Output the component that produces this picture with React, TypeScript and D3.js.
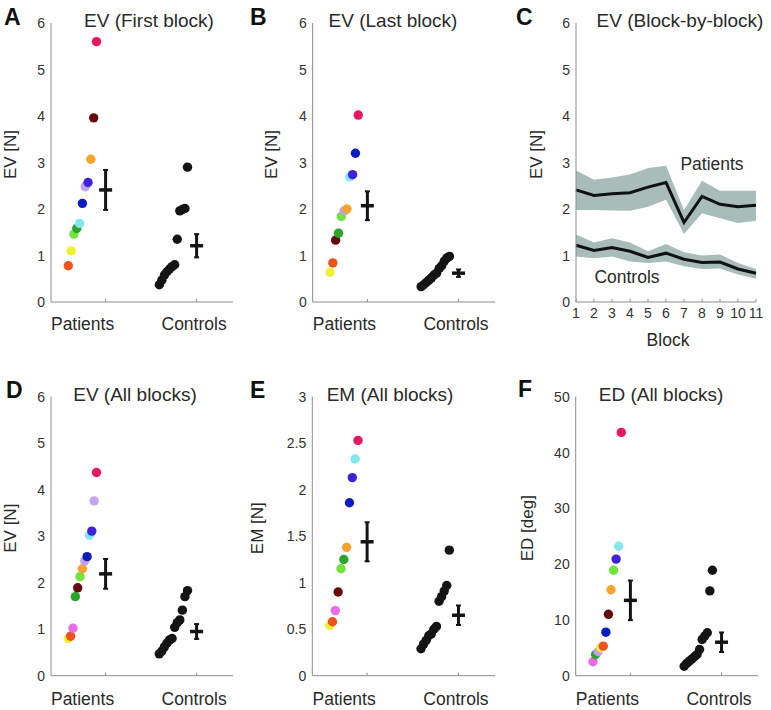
import React from 'react';
import * as d3 from 'd3';

// ---------- DATA ----------
const subjectColors: Record<string, string> = {
  orangered: '#f0521c',
  yellow: '#eef032',
  lime: '#70e43a',
  green: '#2aa52a',
  cyan: '#80e8ee',
  blue: '#0d1cbe',
  lavender: '#c2a0ee',
  violet: '#3e22d8',
  orange: '#f6a42a',
  maroon: '#650b0b',
  crimson: '#e8185c',
  magenta: '#e86ce8',
  lilac: '#c4a6f0',
};

const categories = ['Patients', 'Controls'];

// Panel A: EV first block
const subjectsA = ['orangered', 'yellow', 'lime', 'green', 'cyan', 'blue', 'lavender', 'violet', 'orange', 'maroon', 'crimson'];
const patientsA = [0.78, 1.10, 1.46, 1.58, 1.69, 2.12, 2.48, 2.57, 3.07, 3.96, 5.60];
const controlsA = [0.37, 0.47, 0.58, 0.65, 0.71, 0.76, 0.80, 1.35, 1.96, 1.99, 2.01, 2.90];
const meanA = [2.41, 1.21];
const errA = [0.43, 0.25];

// Panel B: EV last block
const subjectsB = ['yellow', 'orangered', 'maroon', 'green', 'lime', 'lavender', 'orange', 'cyan', 'violet', 'blue', 'crimson'];
const patientsB = [0.64, 0.84, 1.33, 1.48, 1.84, 1.96, 2.00, 2.69, 2.74, 3.20, 4.02];
const controlsB = [0.33, 0.37, 0.42, 0.47, 0.52, 0.58, 0.62, 0.72, 0.78, 0.88, 0.95, 0.98];
const meanB = [2.07, 0.62];
const errB = [0.31, 0.08];

// Panel C: EV block-by-block
const blocks = [1, 2, 3, 4, 5, 6, 7, 8, 9, 10, 11];
const patientsMeanC = [2.41, 2.29, 2.33, 2.35, 2.47, 2.57, 1.71, 2.27, 2.10, 2.05, 2.08];
const patientsUpperC = [2.83, 2.63, 2.68, 2.74, 2.88, 2.93, 1.98, 2.61, 2.39, 2.39, 2.39];
const patientsLowerC = [1.98, 1.98, 1.97, 1.96, 2.05, 2.20, 1.46, 1.91, 1.80, 1.70, 1.75];
const controlsMeanC = [1.22, 1.11, 1.17, 1.09, 0.96, 1.05, 0.92, 0.85, 0.86, 0.71, 0.62];
const controlsUpperC = [1.45, 1.28, 1.37, 1.28, 1.09, 1.25, 1.07, 1.00, 1.02, 0.84, 0.71];
const controlsLowerC = [0.98, 0.94, 0.98, 0.87, 0.84, 0.87, 0.77, 0.71, 0.72, 0.59, 0.50];

// Panel D: EV all blocks
const subjectsD = ['yellow', 'orangered', 'magenta', 'green', 'maroon', 'lime', 'orange', 'lavender', 'blue', 'cyan', 'violet', 'crimson', 'lilac'];
const patientsD = [0.80, 0.85, 1.02, 1.70, 1.89, 2.13, 2.30, 2.47, 2.56, 3.02, 3.11, 4.37, 3.76];
const controlsD = [0.47, 0.53, 0.62, 0.70, 0.77, 0.80, 1.04, 1.14, 1.20, 1.41, 1.70, 1.83];
const meanD = [2.19, 0.95];
const errD = [0.32, 0.16];

// Panel E: EM all blocks
const subjectsE = ['yellow', 'orangered', 'magenta', 'maroon', 'lime', 'green', 'orange', 'blue', 'violet', 'cyan', 'crimson'];
const patientsE = [0.54, 0.58, 0.70, 0.90, 1.15, 1.25, 1.38, 1.86, 2.13, 2.33, 2.53];
const controlsE = [0.29, 0.34, 0.38, 0.43, 0.45, 0.50, 0.53, 0.80, 0.85, 0.91, 0.97, 1.35];
const meanE = [1.44, 0.65];
const errE = [0.21, 0.105];

// Panel F: ED all blocks
const subjectsF = ['magenta', 'green', 'lavender', 'yellow', 'orangered', 'blue', 'maroon', 'orange', 'lime', 'violet', 'cyan', 'crimson'];
const patientsF = [2.5, 3.8, 4.3, 5.0, 5.3, 7.8, 11.0, 15.4, 18.9, 20.9, 23.2, 43.6];
const controlsF = [1.7, 2.2, 2.6, 3.0, 3.4, 3.8, 4.7, 6.5, 7.1, 7.7, 15.2, 18.9];
const meanF = [13.5, 6.0];
const errF = [3.55, 1.75];

const ticks6 = [0, 1, 2, 3, 4, 5, 6];
const ticks3 = [0, 0.5, 1, 1.5, 2, 2.5, 3];
const ticks50 = [0, 10, 20, 30, 40, 50];

// ---------- LAYOUT ----------
const FONT = '"Liberation Sans", Arial, Helvetica, sans-serif';
const AXIS = '#8c8c8c';
const TXT = '#2a2a2a';
const TITLE_SIZE = 19;

type DotCfg = {
  letter: string; letterX: number; letterY: number;
  title: string; titleX: number; titleY: number;
  ylabel: string; ylabelX: number;
  left: number; right: number; top: number; bottom: number;
  yMax: number; yTicks: number[];
  subjects: string[]; patients: number[]; controls: number[];
  means: number[]; errs: number[];
  catY: number;
};

function DotPanel({ c }: { c: DotCfg }) {
  const x = d3.scaleLinear().domain([0.4, 2.4]).range([c.left, c.right]);
  const y = d3.scaleLinear().domain([0, c.yMax]).range([c.bottom, c.top]);
  const jitter = (n: number) => d3.scaleLinear().domain([0, Math.max(1, n - 1)]).range([-0.41, -0.10]);
  const rankOf = (vals: number[]) => {
    const order = d3.range(vals.length).sort((a, b) => vals[a] - vals[b]);
    const r: number[] = new Array(vals.length);
    order.forEach((idx, k) => (r[idx] = k));
    return r;
  };
  const pr = rankOf(c.patients);
  const cr = rankOf(c.controls);
  const jp = jitter(c.patients.length);
  const jc = jitter(c.controls.length);
  const pOrder = d3.range(c.patients.length).sort((a, b) => c.patients[a] - c.patients[b]);
  const cOrder = d3.range(c.controls.length).sort((a, b) => c.controls[a] - c.controls[b]);
  const midY = (c.top + c.bottom) / 2 - 8;
  return (
    <g>
      <text x={c.letterX} y={c.letterY} fontSize={23} fontWeight="bold" fill="#111" fontFamily={FONT}>{c.letter}</text>
      <text x={c.titleX} y={c.titleY} fontSize={TITLE_SIZE} fill={TXT} textAnchor="middle" fontFamily={FONT}>{c.title}</text>
      <text transform={`translate(${c.ylabelX},${midY}) rotate(-90)`} fontSize={17} fill={TXT} textAnchor="middle" dominantBaseline="central" fontFamily={FONT}>{c.ylabel}</text>
      <line x1={c.left} x2={c.left} y1={c.top} y2={c.bottom} stroke={AXIS} strokeWidth={1} />
      <line x1={c.left} x2={c.right} y1={c.bottom} y2={c.bottom} stroke={AXIS} strokeWidth={1} />
      {c.yTicks.map((t) => (
        <text key={t} x={c.left - 6} y={y(t)} fontSize={14} fill="#333" textAnchor="end" dominantBaseline="central" fontFamily={FONT}>{String(t)}</text>
      ))}
      {categories.map((cat, i) => (
        <g key={cat}>
          <line x1={x(i + 1)} x2={x(i + 1)} y1={c.bottom} y2={c.bottom - 3} stroke={AXIS} strokeWidth={1} />
          <text x={x(i + 1) + (i === 0 ? -23 : -2.5)} y={c.catY} fontSize={17.5} fill={TXT} textAnchor="middle" fontFamily={FONT}>{cat}</text>
        </g>
      ))}
      {pOrder.map((i) => (
        <circle key={'p' + i} cx={x(1 + jp(pr[i]))} cy={y(c.patients[i])} r={4.7} fill={subjectColors[c.subjects[i]]} />
      ))}
      {cOrder.map((i) => (
        <circle key={'c' + i} cx={x(2 + jc(cr[i]))} cy={y(c.controls[i])} r={4.7} fill="#141414" />
      ))}
      {c.means.map((m, i) => {
        const cx = x(i + 1);
        return (
          <g key={'m' + i} stroke="#141414">
            <line x1={cx} x2={cx} y1={y(m - c.errs[i])} y2={y(m + c.errs[i])} strokeWidth={3} />
            <line x1={cx - 2.5} x2={cx + 2.5} y1={y(m + c.errs[i])} y2={y(m + c.errs[i])} strokeWidth={2} />
            <line x1={cx - 2.5} x2={cx + 2.5} y1={y(m - c.errs[i])} y2={y(m - c.errs[i])} strokeWidth={2} />
            <line x1={cx - 6.5} x2={cx + 6.5} y1={y(m)} y2={y(m)} strokeWidth={3.5} />
          </g>
        );
      })}
    </g>
  );
}

function BlockPanel() {
  const left = 576, right = 756, top = 23, bottom = 302;
  const x = d3.scaleLinear().domain([1, 11]).range([left, right]);
  const y = d3.scaleLinear().domain([0, 6]).range([bottom, top]);
  const idx = d3.range(blocks.length);
  const area = (lo: number[], hi: number[]) =>
    d3.area<number>().x((i) => x(blocks[i])).y0((i) => y(lo[i])).y1((i) => y(hi[i]))(idx) || '';
  const line = (v: number[]) => d3.line<number>().x((i) => x(blocks[i])).y((i) => y(v[i]))(idx) || '';
  const midY = (top + bottom) / 2 - 8;
  return (
    <g>
      <text x={516} y={25} fontSize={23} fontWeight="bold" fill="#111" fontFamily={FONT}>C</text>
      <text x={680} y={27} fontSize={TITLE_SIZE} fill={TXT} textAnchor="middle" fontFamily={FONT}>EV (Block-by-block)</text>
      <text transform={`translate(536,${midY}) rotate(-90)`} fontSize={17} fill={TXT} textAnchor="middle" dominantBaseline="central" fontFamily={FONT}>EV [N]</text>
      <path d={area(patientsLowerC, patientsUpperC)} fill="#a8bcb9" />
      <path d={area(controlsLowerC, controlsUpperC)} fill="#a8bcb9" />
      <path d={line(patientsMeanC)} fill="none" stroke="#111" strokeWidth={3} />
      <path d={line(controlsMeanC)} fill="none" stroke="#111" strokeWidth={3} />
      <line x1={left} x2={left} y1={top} y2={bottom} stroke={AXIS} strokeWidth={1} />
      <line x1={left} x2={right} y1={bottom} y2={bottom} stroke={AXIS} strokeWidth={1} />
      {ticks6.map((t) => (
        <text key={t} x={left - 6} y={y(t)} fontSize={14} fill="#333" textAnchor="end" dominantBaseline="central" fontFamily={FONT}>{t}</text>
      ))}
      {blocks.map((b) => (
        <g key={b}>
          <line x1={x(b)} x2={x(b)} y1={bottom} y2={bottom - 3} stroke={AXIS} strokeWidth={1} />
          <text x={x(b)} y={318} fontSize={14} fill="#333" textAnchor="middle" fontFamily={FONT}>{b}</text>
        </g>
      ))}
      <text x={668} y={346} fontSize={17.5} fill={TXT} textAnchor="middle" fontFamily={FONT}>Block</text>
      <text x={712} y={170} fontSize={17.5} fill={TXT} textAnchor="middle" fontFamily={FONT}>Patients</text>
      <text x={627} y={283} fontSize={17.5} fill={TXT} textAnchor="middle" fontFamily={FONT}>Controls</text>
    </g>
  );
}

const panels: DotCfg[] = [
  { letter: 'A', letterX: 4, letterY: 25, title: 'EV (First block)', titleX: 149, titleY: 27, ylabel: 'EV [N]', ylabelX: 10,
    left: 51, right: 233, top: 23, bottom: 302, yMax: 6, yTicks: ticks6,
    subjects: subjectsA, patients: patientsA, controls: controlsA, means: meanA, errs: errA, catY: 330 },
  { letter: 'B', letterX: 250, letterY: 25, title: 'EV (Last block)', titleX: 393, titleY: 27, ylabel: 'EV [N]', ylabelX: 271.5,
    left: 312.7, right: 495, top: 23, bottom: 302, yMax: 6, yTicks: ticks6,
    subjects: subjectsB, patients: patientsB, controls: controlsB, means: meanB, errs: errB, catY: 330 },
  { letter: 'D', letterX: 6, letterY: 398, title: 'EV (All blocks)', titleX: 135, titleY: 401, ylabel: 'EV [N]', ylabelX: 10,
    left: 51, right: 233, top: 396.7, bottom: 675.7, yMax: 6, yTicks: ticks6,
    subjects: subjectsD, patients: patientsD, controls: controlsD, means: meanD, errs: errD, catY: 705 },
  { letter: 'E', letterX: 250, letterY: 398, title: 'EM (All blocks)', titleX: 390, titleY: 401, ylabel: 'EM [N]', ylabelX: 257,
    left: 312.3, right: 495, top: 396.7, bottom: 675.7, yMax: 3, yTicks: ticks3,
    subjects: subjectsE, patients: patientsE, controls: controlsE, means: meanE, errs: errE, catY: 705 },
  { letter: 'F', letterX: 518, letterY: 397, title: 'ED (All blocks)', titleX: 661, titleY: 401, ylabel: 'ED [deg]', ylabelX: 527.5,
    left: 575.7, right: 758, top: 396.7, bottom: 675.7, yMax: 50, yTicks: ticks50,
    subjects: subjectsF, patients: patientsF, controls: controlsF, means: meanF, errs: errF, catY: 705 },
];

export default function App() {
  return (
    <svg width={771} height={710} style={{ position: 'absolute', left: 0, top: 0, background: '#fff' }}>
      <rect width={771} height={710} fill="#fff" />
      {panels.map((p) => (
        <DotPanel key={p.letter} c={p} />
      ))}
      <BlockPanel />
    </svg>
  );
}
